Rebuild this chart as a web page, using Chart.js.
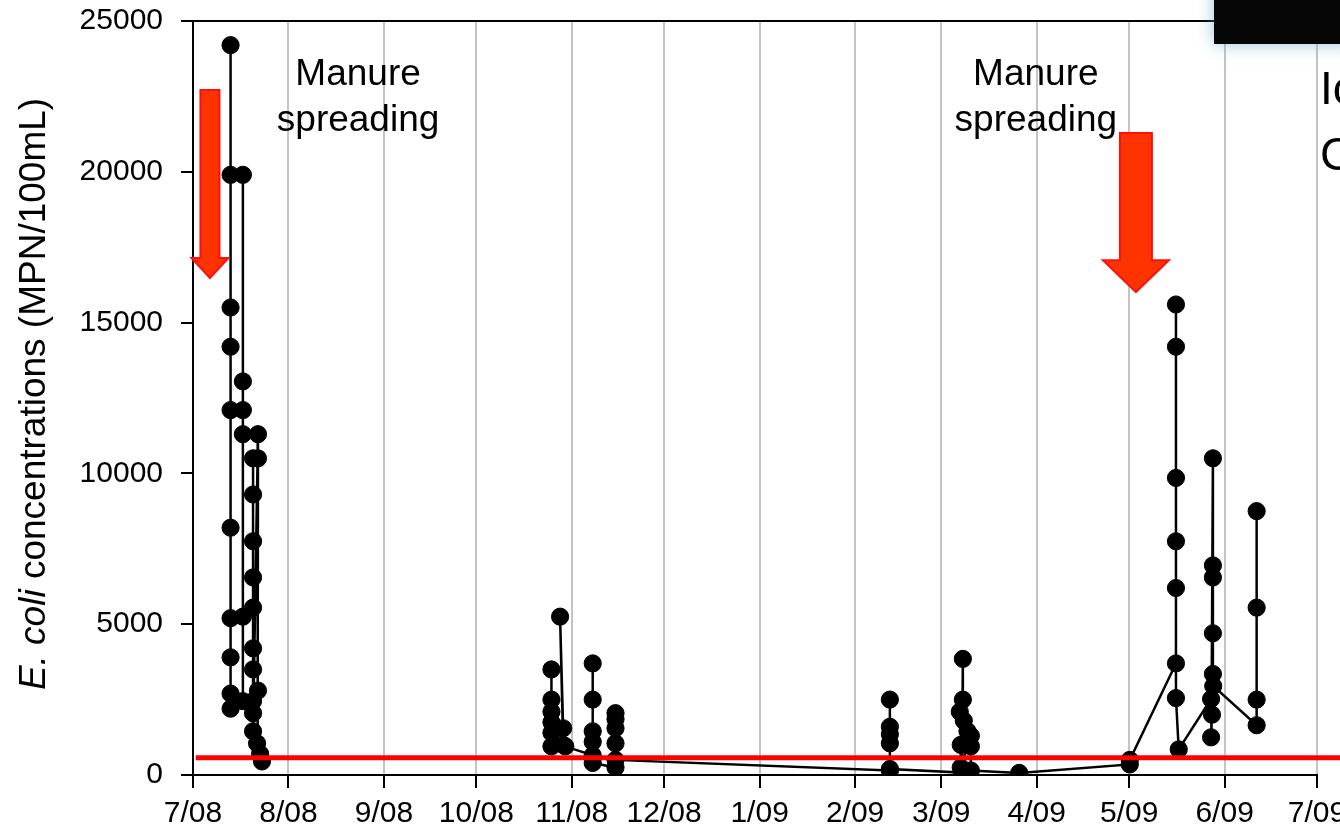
<!DOCTYPE html>
<html>
<head>
<meta charset="utf-8">
<script src="https://cdn.jsdelivr.net/npm/chart.js@4.4.1/dist/chart.umd.min.js"></script>
<style>
  body { margin: 0; background: #fff; }
  canvas { display: block; }
</style>
</head>
<body>
<canvas id="chart" width="1340" height="832"></canvas>
<script>
// month ticks, counted in days from 1 July 2008
const monthDays = [0, 31, 62, 92, 123, 153, 184, 215, 243, 274, 304, 335, 365];
const monthLabels = ['7/08', '8/08', '9/08', '10/08', '11/08', '12/08', '1/09', '2/09', '3/09', '4/09', '5/09', '6/09', '7/09'];

// July 2008 storm events (sample day, MPN/100mL)
const julyDays = [
  12.2, 12.2, 12.2, 12.2, 12.2, 12.2, 12.2, 12.2, 12.2, 12.2,
  16.2, 16.2, 16.2, 16.2, 16.2, 16.2,
  19.5, 19.5, 19.5, 19.5, 19.5, 19.5, 19.5, 19.5, 19.5, 19.5,
  21.1, 21.1, 21.1, 20.8, 21.8, 22.4
];
const julyEcoli = [
  2700, 24200, 19900, 15500, 14200, 12100, 8200, 5200, 3900, 2200,
  2450, 19900, 13050, 12100, 11300, 5250,
  5550, 10500, 9300, 7750, 6550, 4200, 3500, 2450, 2050, 1450,
  11300, 10500, 2800, 1050, 700, 450
];

// November 2008 to June 2009
const laterDays = [
  116.4, 116.4, 116.4, 116.4, 116.4, 116.4,
  120.2, 119.2, 120.2, 120.9,
  129.8, 129.8, 129.8, 129.8, 129.8, 129.8,
  137.2, 137.2, 137.2, 137.2, 137.2, 137.2,
  226.3, 226.3, 226.3, 226.3, 226.3, 226.3,
  249.7, 250.0, 250.0, 249.0, 250.3, 251.5, 249.3, 249.3, 252.6, 252.6, 252.6,
  268.3,
  304.2, 304.2,
  319.2, 319.2, 319.2, 319.2, 319.2, 319.2, 319.2, 320.1,
  330.6, 330.6, 330.9, 331.2, 331.2, 331.2, 331.2, 331.2, 331.3,
  345.4, 345.4, 345.4, 345.4
];
const laterEcoli = [
  3500, 2500, 2100, 1750, 1400, 950,
  1000, 5250, 1550, 950,
  650, 3700, 2500, 1450, 1100, 400,
  250, 2050, 1850, 1550, 1050, 500,
  150, 2500, 1600, 1350, 1050, 200,
  80, 3850, 2500, 2100, 1800, 1450, 1000, 250, 1300, 950, 150,
  70,
  350, 500,
  3700, 15600, 14200, 9850, 7750, 6200, 2550, 850,
  2520, 1250, 2000, 10500, 6950, 6550, 4700, 3350, 2950,
  1650, 8750, 5550, 2500
];

const ecoliLimit = 575;

const FONT = 'Liberation Sans, Arial, sans-serif';

// arrows and labels placed in data units (day, MPN/100mL)
const spreadNotes = [
  { day: 53.6, value: 23230, lines: ['Manure', 'spreading'] },
  { day: 273.7, value: 23230, lines: ['Manure', 'spreading'] }
];
const spreadArrows = [
  { day: 5.5, from: 22710, to: 16480, shaft: 19, head: 37, headLen: 20 },
  { day: 306.2, from: 21290, to: 16010, shaft: 32, head: 66, headLen: 32 }
];

function toPoints(days, values) {
  return days.map((d, i) => ({ x: d, y: values[i] }));
}

function drawArrow(ctx, cx, yTop, yTip, a) {
  const yBase = yTip - a.headLen;
  ctx.beginPath();
  ctx.moveTo(cx - a.shaft / 2, yTop);
  ctx.lineTo(cx + a.shaft / 2, yTop);
  ctx.lineTo(cx + a.shaft / 2, yBase);
  ctx.lineTo(cx + a.head / 2, yBase);
  ctx.lineTo(cx, yTip);
  ctx.lineTo(cx - a.head / 2, yBase);
  ctx.lineTo(cx - a.shaft / 2, yBase);
  ctx.closePath();
  ctx.fillStyle = '#ff3300';
  ctx.fill();
  ctx.strokeStyle = '#ff1010';
  ctx.lineWidth = 2;
  ctx.stroke();
}

const annotations = {
  id: 'annotations',
  afterDatasetsDraw(chart) {
    const { ctx, scales: { x, y } } = chart;
    ctx.save();
    spreadArrows.forEach(a => {
      drawArrow(ctx, x.getPixelForValue(a.day), y.getPixelForValue(a.from), y.getPixelForValue(a.to), a);
    });
    ctx.fillStyle = '#000';
    ctx.font = '37px ' + FONT;
    ctx.textAlign = 'center';
    ctx.textBaseline = 'middle';
    spreadNotes.forEach(n => {
      const px = x.getPixelForValue(n.day);
      const py = y.getPixelForValue(n.value);
      n.lines.forEach((t, i) => ctx.fillText(t, px, py + i * 46));
    });
    ctx.restore();
  },
  afterDraw(chart) {
    const { ctx, chartArea } = chart;
    ctx.save();
    // y axis title, with the species name in italics
    const italic = 'E. coli';
    const plain = ' concentrations (MPN/100mL)';
    ctx.translate(35, (chartArea.top + chartArea.bottom) / 2 - 4);
    ctx.rotate(-Math.PI / 2);
    ctx.textBaseline = 'middle';
    ctx.textAlign = 'left';
    ctx.fillStyle = '#000';
    ctx.font = 'italic 37px ' + FONT;
    const w1 = ctx.measureText(italic).width;
    ctx.font = '37px ' + FONT;
    const w2 = ctx.measureText(plain).width;
    const start = -(w1 + w2) / 2;
    ctx.font = 'italic 37px ' + FONT;
    ctx.fillText(italic, start, 0);
    ctx.font = '37px ' + FONT;
    ctx.fillText(plain, start + w1, 0);
    ctx.restore();

    // slide text and dark panel at the top right
    ctx.save();
    ctx.fillStyle = '#000';
    ctx.font = '46px ' + FONT;
    ctx.textBaseline = 'alphabetic';
    ctx.textAlign = 'left';
    ctx.fillText('Ic', 1320, 104);
    ctx.fillText('C', 1320, 170);
    ctx.shadowColor = 'rgba(90, 160, 185, 0.6)';
    ctx.shadowBlur = 16;
    ctx.fillStyle = '#060606';
    ctx.fillRect(1214, -20, 140, 64);
    ctx.restore();
  }
};

const lineStyle = {
  showLine: true,
  borderColor: '#000',
  borderWidth: 2.5,
  pointRadius: 8.6,
  pointBorderWidth: 1,
  pointBackgroundColor: '#000',
  pointBorderColor: '#000',
  order: 1
};

new Chart(document.getElementById('chart'), {
  type: 'scatter',
  data: {
    datasets: [
      {
        label: 'Limit',
        data: [{ x: 0.9, y: ecoliLimit }, { x: 374, y: ecoliLimit }],
        showLine: true,
        borderColor: '#ff0000',
        borderWidth: 5,
        pointRadius: 0,
        clip: false,
        order: 0
      },
      Object.assign({ label: 'July 2008', data: toPoints(julyDays, julyEcoli) }, lineStyle),
      Object.assign({ label: 'Nov 2008 - Jun 2009', data: toPoints(laterDays, laterEcoli) }, lineStyle)
    ]
  },
  options: {
    responsive: false,
    animation: false,
    events: [],
    layout: { padding: { top: 21, right: 23, left: 0, bottom: 0 } },
    plugins: { legend: { display: false }, tooltip: { enabled: false } },
    scales: {
      x: {
        type: 'linear',
        min: 0,
        max: 365,
        afterBuildTicks: s => { s.ticks = monthDays.map(v => ({ value: v })); },
        afterFit: s => { s.height = 57; s.paddingLeft = 0; s.paddingRight = 0; },
        ticks: {
          callback: (v, i) => monthLabels[i],
          autoSkip: false,
          maxRotation: 0,
          padding: 8,
          color: '#000',
          font: { family: FONT, size: 30 }
        },
        grid: { color: '#c4c4c4', lineWidth: 2, tickColor: '#000', tickLength: 13, tickWidth: 2 },
        border: { color: '#000', width: 2 }
      },
      y: {
        min: 0,
        max: 25000,
        afterFit: s => { s.width = 193; s.paddingTop = 0; s.paddingBottom = 0; },
        ticks: {
          stepSize: 5000,
          callback: v => String(v),
          padding: 18,
          color: '#000',
          font: { family: FONT, size: 30 }
        },
        grid: {
          color: c => (c.tick && c.tick.value === 25000 ? '#000' : 'rgba(0,0,0,0)'),
          lineWidth: 2,
          tickColor: '#000',
          tickLength: 12,
          tickWidth: 2
        },
        border: { color: '#000', width: 2 }
      }
    }
  },
  plugins: [annotations]
});
</script>
</body>
</html>
